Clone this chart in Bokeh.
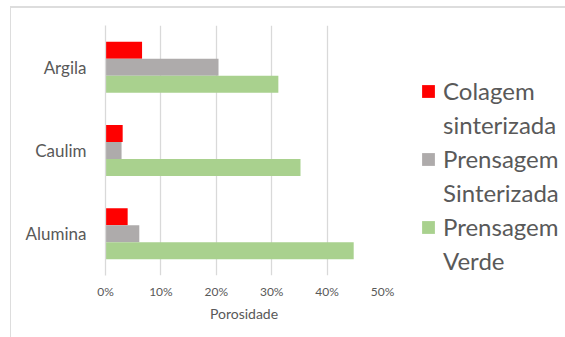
from bokeh.plotting import figure
from bokeh.models import (ColumnDataSource, FactorRange, Range1d, FixedTicker,
                          Legend, LegendItem)
from bokeh.transform import dodge
from bokeh.embed import file_html
from bokeh.resources import INLINE

# Porosity (%) per material and forming route
materials = ["Alumina", "Caulim", "Argila"]
colagem_sinterizada = [4.0, 3.1, 6.6]
prensagem_sinterizada = [6.1, 2.9, 20.4]
prensagem_verde = [44.8, 35.2, 31.2]
series_labels = [("Colagem", "sinterizada"), ("Prensagem", "Sinterizada"), ("Prensagem", "Verde")]
series_colors = ["#FF0000", "#AEABAB", "#A9D18E"]
x_ticks = [0, 10, 20, 30, 40, 50]

TEXT = "#595959"
GRID = "#D9D9D9"
BORDER = "#DDDDDD"
FONT = "Lato"

source = ColumnDataSource(dict(
    material=materials,
    colagem=colagem_sinterizada,
    prens_sint=prensagem_sinterizada,
    prens_verde=prensagem_verde,
))

p = figure(
    frame_width=277, frame_height=250,
    y_range=FactorRange(*materials, range_padding=0),
    x_range=Range1d(0, 50),
    output_backend="svg", toolbar_location=None,
    min_border_left=105, min_border_right=183,
    min_border_top=25, min_border_bottom=62,
)

bar_h = 0.204
offsets = [bar_h, 0.0, -bar_h]
fields = ["colagem", "prens_sint", "prens_verde"]
renderers = []
for field, off, color in zip(fields, offsets, series_colors):
    r = p.hbar(y=dodge("material", off, range=p.y_range), right=field, left=0,
               height=bar_h, source=source, fill_color=color, line_color=None)
    renderers.append(r)

# axes
p.xaxis.ticker = FixedTicker(ticks=x_ticks)
p.xaxis.major_label_overrides = {t: f"{t}%" for t in x_ticks}
p.xaxis.axis_label = "Porosidade"
p.xaxis.axis_line_color = None
p.xaxis.major_tick_line_color = None
p.xaxis.minor_tick_line_color = None
p.xaxis.major_tick_out = 0
p.xaxis.major_tick_in = 0
p.xaxis.major_label_standoff = 8
p.xaxis.axis_label_standoff = 3
p.xaxis.major_label_text_font = FONT
p.xaxis.major_label_text_font_size = "12px"
p.xaxis.major_label_text_color = TEXT
p.xaxis.axis_label_text_font = FONT
p.xaxis.axis_label_text_font_size = "14px"
p.xaxis.axis_label_text_font_style = "normal"
p.xaxis.axis_label_text_color = TEXT

p.yaxis.axis_line_color = GRID
p.yaxis.axis_line_width = 1.3
p.yaxis.major_tick_line_color = None
p.yaxis.major_tick_out = 0
p.yaxis.major_tick_in = 0
p.yaxis.major_label_standoff = 19
p.yaxis.major_label_text_font = FONT
p.yaxis.major_label_text_font_size = "17px"
p.yaxis.major_label_text_color = TEXT

p.xgrid.grid_line_color = GRID
p.xgrid.grid_line_width = 1.3
p.ygrid.grid_line_color = None
p.outline_line_color = None

# each series name takes two legend rows: the swatch sits on the first one
legend_items = []
for (first, second), r in zip(series_labels, renderers):
    legend_items.append(LegendItem(label=first, renderers=[r]))
    legend_items.append(LegendItem(label=second, renderers=[]))

legend = Legend(
    items=legend_items,
    location=(38, 0),
    orientation="vertical",
    glyph_width=16, glyph_height=16,
    label_standoff=7, spacing=5, padding=0, margin=0,
    label_text_font=FONT, label_text_font_size="24px", label_text_color=TEXT,
    border_line_color=None, background_fill_alpha=0,
)
p.add_layout(legend, "right")

# chart area border: top and left edges
p.border_fill_color = None
p.styles = {
    "background-color": "white",
    "background-image": f"linear-gradient({BORDER}, {BORDER}), linear-gradient({BORDER}, {BORDER})",
    "background-size": "555px 2px, 1px 331px",
    "background-position": "10px 6px, 10px 7px",
    "background-repeat": "no-repeat",
}

open("out.html", "w").write(file_html(p, INLINE))
